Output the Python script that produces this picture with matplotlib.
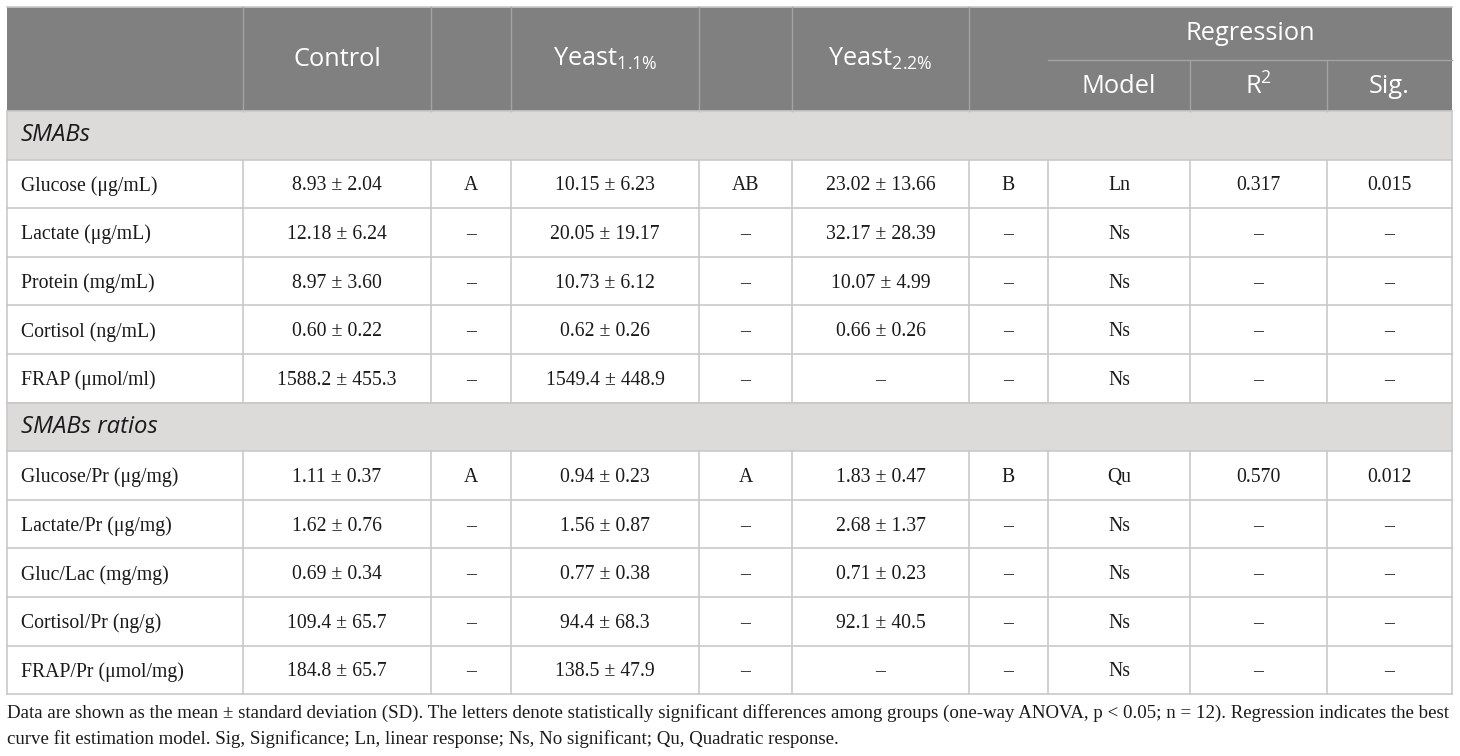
import matplotlib
matplotlib.use("Agg")
import matplotlib.pyplot as plt

# ---- table contents ----
groups = ["Control", "Yeast$_{\\mathrm{1.1\\%}}$", "Yeast$_{\\mathrm{2.2\\%}}$"]
reg_cols = ["Model", "R$^{\\mathrm{2}}$", "Sig."]

sec1 = "SMABs"
rows1 = ["Glucose (μg/mL)", "Lactate (μg/mL)", "Protein (mg/mL)", "Cortisol (ng/mL)", "FRAP (μmol/ml)"]
ctrl1 = ["8.93 ± 2.04", "12.18 ± 6.24", "8.97 ± 3.60", "0.60 ± 0.22", "1588.2 ± 455.3"]
let_c1 = ["A", "–", "–", "–", "–"]
y11_1 = ["10.15 ± 6.23", "20.05 ± 19.17", "10.73 ± 6.12", "0.62 ± 0.26", "1549.4 ± 448.9"]
let_a1 = ["AB", "–", "–", "–", "–"]
y22_1 = ["23.02 ± 13.66", "32.17 ± 28.39", "10.07 ± 4.99", "0.66 ± 0.26", "–"]
let_b1 = ["B", "–", "–", "–", "–"]
model1 = ["Ln", "Ns", "Ns", "Ns", "Ns"]
r2_1 = ["0.317", "–", "–", "–", "–"]
sig1 = ["0.015", "–", "–", "–", "–"]

sec2 = "SMABs ratios"
rows2 = ["Glucose/Pr (μg/mg)", "Lactate/Pr (μg/mg)", "Gluc/Lac (mg/mg)", "Cortisol/Pr (ng/g)", "FRAP/Pr (μmol/mg)"]
ctrl2 = ["1.11 ± 0.37", "1.62 ± 0.76", "0.69 ± 0.34", "109.4 ± 65.7", "184.8 ± 65.7"]
let_c2 = ["A", "–", "–", "–", "–"]
y11_2 = ["0.94 ± 0.23", "1.56 ± 0.87", "0.77 ± 0.38", "94.4 ± 68.3", "138.5 ± 47.9"]
let_a2 = ["A", "–", "–", "–", "–"]
y22_2 = ["1.83 ± 0.47", "2.68 ± 1.37", "0.71 ± 0.23", "92.1 ± 40.5", "–"]
let_b2 = ["B", "–", "–", "–", "–"]
model2 = ["Qu", "Ns", "Ns", "Ns", "Ns"]
r2_2 = ["0.570", "–", "–", "–", "–"]
sig2 = ["0.012", "–", "–", "–", "–"]

footnote = ["Data are shown as the mean ± standard deviation (SD). The letters denote statistically significant differences among groups (one-way ANOVA, p < 0.05; n = 12). Regression indicates the best",
            "curve fit estimation model. Sig, Significance; Ln, linear response; Ns, No significant; Qu, Quadratic response."]

# ---- layout (pixels) ----
W, H = 1460, 756
cols = [7, 243, 431, 511, 699, 792, 969, 1048, 1190, 1327, 1452]
top, mid_h, head_b = 7, 60, 111
row_h = 48.6

HEAD = "#808080"
BAND = "#dcdbda"
GRID = "#c9c9c9"
HLINE = "#a3a3a3"
TXT = "#1a1a1a"

plt.rcParams["mathtext.fontset"] = "custom"
plt.rcParams["mathtext.rm"] = "Open Sans"
plt.rcParams["mathtext.it"] = "Open Sans:italic"

fig = plt.figure(figsize=(W / 100, H / 100), dpi=100)
ax = fig.add_axes([0, 0, 1, 1])
ax.set_xlim(0, W)
ax.set_ylim(H, 0)
ax.axis("off")

serif = "Liberation Serif"
sans = "Open Sans"
fs = 14.2
hfs = 18.3

# header
ax.add_patch(plt.Rectangle((cols[0], top), cols[-1] - cols[0], head_b - top, color=HEAD, lw=0))
ax.plot([cols[0], cols[-1]], [top, top], color=GRID, lw=1.2)
for x in cols[1:7]:
    ax.plot([x, x], [top, head_b], color=HLINE, lw=1)
for x in cols[8:10]:
    ax.plot([x, x], [mid_h, head_b], color=HLINE, lw=1)
ax.plot([cols[7], cols[-1]], [mid_h, mid_h], color=HLINE, lw=1)
hy = (top + head_b) / 2
for i, g in enumerate(groups):
    cx = (cols[1 + 2 * i] + cols[2 + 2 * i]) / 2
    ax.text(cx, hy, g, ha="center", va="center", color="white", fontsize=hfs, family=sans)
ax.text((cols[7] + cols[-1]) / 2, (top + mid_h) / 2, "Regression", ha="center", va="center",
        color="white", fontsize=hfs, family=sans)
for i, r in enumerate(reg_cols):
    cx = (cols[7 + i] + cols[8 + i]) / 2
    ax.text(cx, (mid_h + head_b) / 2 + 1, r, ha="center", va="center", color="white", fontsize=hfs, family=sans)


def draw_section(y0, title, labels, c1, l1, c2, l2, c3, l3, m, r2, sg):
    ax.add_patch(plt.Rectangle((cols[0], y0), cols[-1] - cols[0], row_h, color=BAND, lw=0))
    ax.text(21, y0 + row_h / 2, title, ha="left", va="center", fontsize=17.2, family=sans,
            style="italic", color=TXT)
    ax.plot([cols[0], cols[-1]], [y0, y0], color=GRID, lw=1.2)
    y = y0 + row_h
    for k in range(len(labels)):
        ax.plot([cols[0], cols[-1]], [y, y], color=GRID, lw=1.2)
        cy = y + row_h / 2 + 2
        ax.text(21, cy, labels[k], ha="left", va="center", fontsize=fs, family=serif, color=TXT)
        vals = [c1[k], l1[k], c2[k], l2[k], c3[k], l3[k], m[k], r2[k], sg[k]]
        for j, v in enumerate(vals):
            cx = (cols[1 + j] + cols[2 + j]) / 2
            ax.text(cx, cy, v, ha="center", va="center", fontsize=fs, family=serif, color=TXT)
        for x in cols:
            ax.plot([x, x], [y, y + row_h], color=GRID, lw=1.2)
        y += row_h
    ax.plot([cols[0], cols[-1]], [y, y], color=GRID, lw=1.2)
    ax.plot([cols[0], cols[0]], [y0, y0 + row_h], color=GRID, lw=1.2)
    ax.plot([cols[-1], cols[-1]], [y0, y0 + row_h], color=GRID, lw=1.2)
    return y


y_end = draw_section(head_b, sec1, rows1, ctrl1, let_c1, y11_1, let_a1, y22_1, let_b1, model1, r2_1, sig1)
y_end = draw_section(y_end, sec2, rows2, ctrl2, let_c2, y11_2, let_a2, y22_2, let_b2, model2, r2_2, sig2)

ax.text(7, 713, footnote[0], ha="left", va="center", fontsize=13.6, family=serif, color=TXT)
ax.text(7, 739, footnote[1], ha="left", va="center", fontsize=13.6, family=serif, color=TXT)

fig.savefig("out.png", dpi=100)
